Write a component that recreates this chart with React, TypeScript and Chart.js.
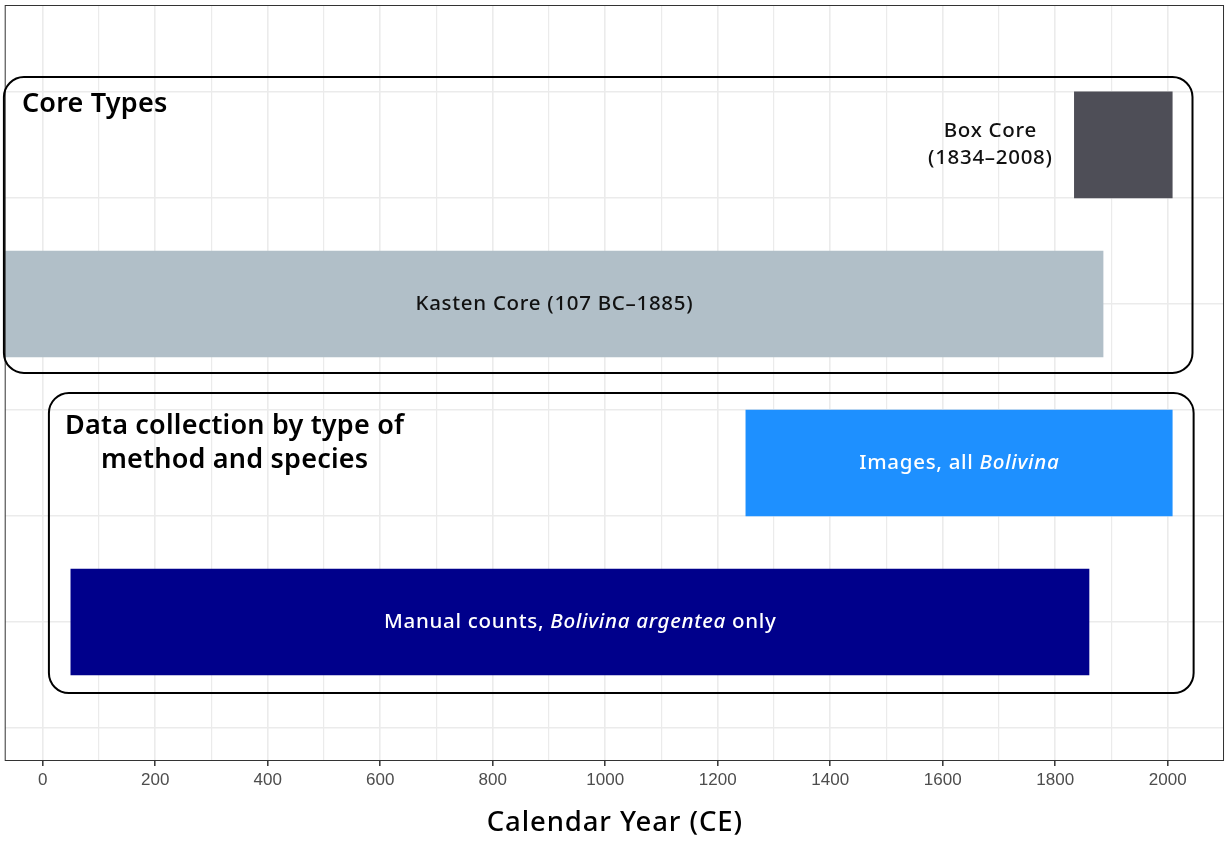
import { useEffect, useRef } from 'react';
import { Chart, registerables } from 'chart.js';
Chart.register(...registerables);

// ---- data ----
const barNames = ['Box Core', 'Kasten Core', 'Images', 'Manual counts'];
const barStart = [1834, -107, 1250, 50];
const barEnd = [2008, 1885, 2008, 1860];
const barRow = [5.5, 4, 2.5, 1];
const barColors = ['#4E4E57', '#B1BFC8', '#1E90FF', '#00008B'];
const barLabels = [
  ['Box Core', '(1834–2008)'],
  ['Kasten Core (107 BC–1885)'],
  ['Images, all *Bolivina*'],
  ['Manual counts, *Bolivina argentea* only'],
];
const barLabelX = [1684, 909, 1629, 955];
const barLabelColors = ['#111111', '#111111', '#FFFFFF', '#FFFFFF'];

const groupTitles = [['Core Types'], ['Data collection by type of', 'method and species']];
const groupXMin = [-69, 11];
const groupXMax = [2044, 2046];
const groupYMin = [3.35, 0.33];
const groupYMax = [6.14, 3.16];
const groupTitleX = [-37, 341];
const groupTitleY = [5.885, 2.69];
const groupTitleAlign: CanvasTextAlign[] = ['left', 'center'];

const xMin = -67.6;
const xMax = 2100;
const yMin = -0.311;
const yMax = 6.82;
const xAxisTitle = 'Calendar Year (CE)';

const FAMILY = '"Noto Sans", Lato, sans-serif';

function drawRich(ctx: CanvasRenderingContext2D, text: string, cx: number, cy: number,
  size: number, weight: number, color: string, align: CanvasTextAlign, spacing: number) {
  const parts = text.split('*');
  (ctx as any).letterSpacing = `${spacing}px`;
  const fontFor = (it: boolean) => `${it ? 'italic ' : ''}${weight} ${size}px ${FAMILY}`;
  const widths = parts.map((p, i) => { ctx.font = fontFor(i % 2 === 1); return ctx.measureText(p).width; });
  const total = widths.reduce((a, b) => a + b, 0) - spacing;
  let x = align === 'center' ? cx - total / 2 : align === 'left' ? cx : cx - total;
  ctx.fillStyle = color;
  ctx.textAlign = 'left';
  ctx.textBaseline = 'middle';
  parts.forEach((p, i) => {
    ctx.font = fontFor(i % 2 === 1);
    ctx.fillText(p, x, cy);
    x += widths[i];
  });
  (ctx as any).letterSpacing = '0px';
}

const overlay = {
  id: 'overlay',
  afterDatasetsDraw(chart: any) {
    const { ctx, chartArea, scales } = chart;
    const x = scales.x, y = scales.y;
    ctx.save();
    // panel border
    ctx.strokeStyle = '#333333';
    ctx.lineWidth = 1;
    ctx.strokeRect(chartArea.left + 0.5, chartArea.top + 0.5, chartArea.width - 1, chartArea.height - 1);

    // bar labels
    barLabels.forEach((lines, i) => {
      const cx = x.getPixelForValue(barLabelX[i]);
      const cy = y.getPixelForValue(barRow[i]);
      const lh = 27;
      lines.forEach((line, j) => {
        const yy = cy + (j - (lines.length - 1) / 2) * lh;
        drawRich(ctx, line, cx, yy, 20.5, 500, barLabelColors[i], 'center', 0.7);
      });
    });

    // group boxes
    groupTitles.forEach((lines, i) => {
      const l = x.getPixelForValue(groupXMin[i]);
      const r = x.getPixelForValue(groupXMax[i]);
      const t = y.getPixelForValue(groupYMax[i]);
      const b = y.getPixelForValue(groupYMin[i]);
      ctx.beginPath();
      ctx.roundRect(l, t, r - l, b - t, 20);
      ctx.lineWidth = 2;
      ctx.strokeStyle = '#000000';
      ctx.stroke();
      const tx = x.getPixelForValue(groupTitleX[i]);
      const ty = y.getPixelForValue(groupTitleY[i]);
      const lh = 34;
      lines.forEach((line, j) => {
        const yy = ty + (j - (lines.length - 1) / 2) * lh;
        drawRich(ctx, line, tx, yy, 27, 600, '#000000', groupTitleAlign[i], 0.2);
      });
    });

    // x axis title
    drawRich(ctx, xAxisTitle, (chartArea.left + chartArea.right) / 2, chart.height - 18,
      27.5, 500, '#000000', 'center', 0.9);
    ctx.restore();
  },
};

export default function App() {
  const ref = useRef<HTMLCanvasElement>(null);
  useEffect(() => {
    if (!ref.current) return;
    const chart = new Chart(ref.current, {
      type: 'bar',
      data: {
        labels: barNames,
        datasets: [{
          data: barRow.map((r, i) => ({ y: r, x: [barStart[i], barEnd[i]] })) as any,
          backgroundColor: barColors,
          borderWidth: 0,
          barPercentage: 1,
          categoryPercentage: 1,
        }],
      },
      options: {
        indexAxis: 'y',
        animation: false,
        responsive: false,
        maintainAspectRatio: false,
        layout: { padding: { left: 4.7, top: 5, right: 1, bottom: 0 } },
        plugins: { legend: { display: false }, tooltip: { enabled: false } },
        scales: {
          x: {
            type: 'linear',
            position: 'bottom',
            min: xMin,
            max: xMax,
            offset: false,
            border: { display: false },
            grid: {
              color: '#EBEBEB',
              offset: false,
              lineWidth: (c: any) => (c.tick && c.tick.value % 200 === 0 ? 1.6 : 1.2),
              tickColor: (c: any) => (c.tick && c.tick.value % 200 === 0 ? '#333333' : 'rgba(0,0,0,0)'),
              tickLength: 5,
              tickWidth: 1.5,
            },
            ticks: {
              stepSize: 100,
              includeBounds: false,
              autoSkip: false,
              maxRotation: 0,
              padding: 4,
              color: '#4D4D4D',
              font: { family: '"Liberation Sans", Arial, sans-serif', size: 17 },
              callback: (v: any) => (Number(v) % 200 === 0 ? String(v) : ''),
            },
            title: { display: false, text: xAxisTitle },
            afterFit: (s: any) => { s.height = 80; s.paddingLeft = 0; s.paddingRight = 0; },
          },
          y: {
            type: 'linear',
            min: yMin,
            max: yMax,
            offset: false,
            border: { display: false },
            grid: { color: '#EBEBEB', lineWidth: 1.6, drawTicks: false, offset: false },
            ticks: { display: false, stepSize: 1, includeBounds: false },
            afterFit: (s: any) => { s.width = 0; },
          },
        },
      },
      plugins: [overlay],
    });
    return () => chart.destroy();
  }, []);
  return (
    <div style={{ position: 'fixed', left: 0, top: 0, width: 1225, height: 841, background: '#fff' }}>
      <canvas ref={ref} width={1225} height={841} style={{ width: 1225, height: 841 }} />
    </div>
  );
}
